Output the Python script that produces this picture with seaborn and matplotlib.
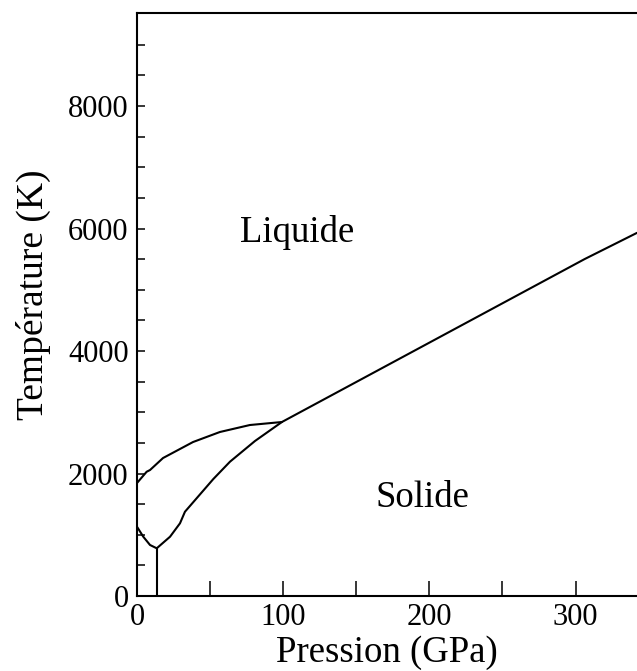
import matplotlib
matplotlib.use("Agg")
import matplotlib.pyplot as plt
import seaborn as sns
import pandas as pd

sns.set_theme(style="ticks")
plt.rcParams["font.family"] = ["Liberation Serif", "DejaVu Serif"]
plt.rcParams["mathtext.fontset"] = "stix"

# Upper boundary (liquid / solid), from P=0 to the triple point
upper_p = [0.0, 6.6, 8.9, 17.8, 38.3, 56.7, 77.2, 99.1]
upper_t = [1845, 2029, 2057, 2253, 2514, 2678, 2792, 2841]

# Lower boundary with its minimum near 13.5 GPa
lower_p = [0.0, 4.3, 8.9, 13.5, 22.6, 29.4, 32.8, 52.2, 63.6, 80.7, 99.1]
lower_t = [1131, 968, 833, 779, 968, 1187, 1376, 1910, 2193, 2531, 2841]

# Vertical boundary from the minimum down to T=0
vert_p = [13.5, 13.5]
vert_t = [0, 779]

# Melting line above the triple point
melt_p = [99.1, 306.2, 342.0]
melt_t = [2841, 5502, 5930]

labels = ["Liquide", "Solide"]
label_p = [109.7, 195.0]
label_t = [5780, 1458]

fig = plt.figure(figsize=(6.37, 6.71), dpi=100)
ax = fig.add_axes([137 / 637, 75 / 671, 500 / 637, 583 / 671])

lw = 1.5
for p, t in [(upper_p, upper_t), (lower_p, lower_t), (vert_p, vert_t), (melt_p, melt_t)]:
    df = pd.DataFrame({"P": p, "T": t})
    sns.lineplot(data=df, x="P", y="T", sort=False, estimator=None,
                 color="black", linewidth=lw, ax=ax)

for txt, p, t in zip(labels, label_p, label_t):
    ax.text(p, t, txt, ha="center", va="baseline", fontsize=26.5, color="black")

ax.set_xlim(0, 342)
ax.set_ylim(0, 9520)
ax.set_xticks([0, 100, 200, 300])
ax.set_xticks([50, 150, 250], minor=True)
ax.set_yticks([0, 2000, 4000, 6000, 8000])
ax.set_yticks([500, 1000, 1500, 2500, 3000, 3500, 4500, 5000, 5500,
               6500, 7000, 7500, 8500, 9000], minor=True)

ax.tick_params(axis="x", which="both", direction="in", length=10.8, width=1.1,
               labelsize=22, pad=5, colors="black")
ax.tick_params(axis="y", which="both", direction="in", length=5.8, width=1.1,
               labelsize=22, pad=6, colors="black")

for s in ["left", "bottom", "top"]:
    ax.spines[s].set_linewidth(1.5)
    ax.spines[s].set_color("black")
ax.spines["right"].set_visible(False)

ax.set_xlabel("Pression (GPa)", fontsize=26.5, color="black")
ax.set_ylabel("Température (K)", fontsize=27, color="black")
ax.xaxis.label.set_verticalalignment("baseline")
ax.xaxis.set_label_coords(0.5, -0.113)
ax.yaxis.set_label_coords(-0.172, 0.516)

fig.savefig("out.png", dpi=100)
